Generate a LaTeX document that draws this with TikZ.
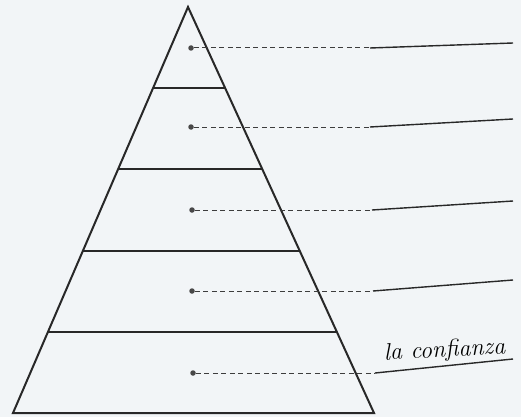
\documentclass[tikz,border=0pt]{standalone}
\usepackage{fontspec}
\usepackage{tikz}
\usetikzlibrary{calc,positioning}
\definecolor{paper}{RGB}{242,245,247}
\definecolor{ink}{RGB}{40,40,40}

\begin{document}
\begin{tikzpicture}
    [
      x=1pt, y=-1pt,
      level/.style={draw=ink, line width=2pt},
      spot/.style={circle, fill=ink!85, inner sep=0pt, minimum size=5.5pt},
      guide/.style={draw=ink!90, dash pattern=on 5pt off 3.5pt, line width=1pt},
      answer/.style={draw=ink, line width=1.4pt},
      handwriting/.style={font=\fontsize{24}{28}\selectfont\itshape, inner sep=0pt}
    ]

    \fill[paper] (0,0) rectangle (521,417);
    \useasboundingbox (0,0) rectangle (521,417);

    % pyramid
    \coordinate (top) at (188,7);
    \coordinate (bl) at (13,413);
    \coordinate (br) at (374,413);
    \draw[level, line join=miter] (top) -- (bl) -- (br) -- cycle;
    \foreach \t in {0.2,0.4,0.6,0.8}
      \draw[level] ($(top)!\t!(bl)$) -- ($(top)!\t!(br)$);

    % one dot per level
    \node (d1) [spot] at (191,48) {};
    \node (d2) [spot] at (191,127) {};
    \node (d3) [spot] at (192,210) {};
    \node (d4) [spot] at (192,291) {};
    \node (d5) [spot] at (193,373) {};

    % answer lines
    \coordinate (s1) at (370,48);  \coordinate (e1) at (513,43);
    \coordinate (s2) at (370,127); \coordinate (e2) at (513,119);
    \coordinate (s3) at (372,210); \coordinate (e3) at (513,201);
    \coordinate (s4) at (373,291); \coordinate (e4) at (513,280);
    \coordinate (s5) at (375,373); \coordinate (e5) at (513,359);

    \path
    (d1) edge [guide] (s1)
    (d2) edge [guide] (s2)
    (d3) edge [guide] (s3)
    (d4) edge [guide] (s4)
    (d5) edge [guide] (s5)
    (s1) edge [answer] (e1)
    (s2) edge [answer] (e2)
    (s3) edge [answer] (e3)
    (s4) edge [answer] (e4)
    (s5) edge [answer] (e5)
    ;

    \node (conf) [handwriting, anchor=base, rotate=3] at (445,357) {la confianza};

\end{tikzpicture}
\end{document}
